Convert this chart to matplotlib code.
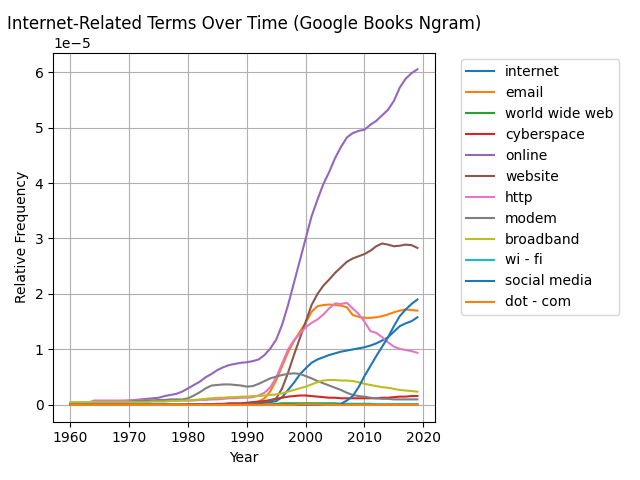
import numpy as np
import matplotlib
matplotlib.use("Agg")
import matplotlib.pyplot as plt

years = list(range(1960, 2020))

terms = ["internet", "email", "world wide web", "cyberspace", "online", "website",
         "http", "modem", "broadband", "wi - fi", "social media", "dot - com"]

# values in units of 1e-5, years 1960..2019
internet = [0.01] * 30 + [
    0.02, 0.02, 0.03, 0.04, 0.05, 0.07, 0.14, 0.27, 0.40, 0.55,
    0.66, 0.76, 0.82, 0.86, 0.90, 0.93, 0.96, 0.98, 1.00, 1.02,
    1.04, 1.07, 1.11, 1.16, 1.22, 1.32, 1.42, 1.47, 1.51, 1.58]
email = [0.0] * 25 + [0.01, 0.01, 0.02, 0.02, 0.02] + [
    0.03, 0.04, 0.06, 0.12, 0.25, 0.45, 0.70, 0.95, 1.15, 1.32,
    1.48, 1.68, 1.78, 1.80, 1.81, 1.80, 1.79, 1.76, 1.62, 1.59,
    1.57, 1.57, 1.58, 1.60, 1.63, 1.67, 1.70, 1.72, 1.71, 1.70]
world_wide_web = [0.0] * 34 + [
    0.01, 0.02, 0.03, 0.03, 0.03, 0.03,
    0.03, 0.03, 0.03, 0.03, 0.03, 0.03, 0.02, 0.02, 0.02, 0.02,
    0.02, 0.02, 0.01, 0.01, 0.01, 0.01, 0.01, 0.01, 0.01, 0.01]
cyberspace = [0.0] * 24 + [0.01, 0.02, 0.02, 0.03, 0.03, 0.03] + [
    0.04, 0.05, 0.06, 0.07, 0.09, 0.11, 0.13, 0.15, 0.16, 0.17,
    0.17, 0.16, 0.15, 0.14, 0.13, 0.13, 0.12, 0.12, 0.12, 0.12,
    0.12, 0.12, 0.12, 0.13, 0.13, 0.14, 0.15, 0.15, 0.16, 0.16]
online = [
    0.03, 0.03, 0.03, 0.04, 0.05, 0.05, 0.05, 0.06, 0.06, 0.07,
    0.08, 0.09, 0.10, 0.11, 0.12, 0.13, 0.16, 0.18, 0.20, 0.24,
    0.30, 0.36, 0.42, 0.50, 0.56, 0.63, 0.68, 0.72, 0.74, 0.76,
    0.77, 0.79, 0.82, 0.90, 1.02, 1.18, 1.45, 1.80, 2.20, 2.60,
    3.00, 3.40, 3.70, 3.98, 4.20, 4.45, 4.65, 4.82, 4.90, 4.94,
    4.96, 5.05, 5.12, 5.22, 5.32, 5.48, 5.72, 5.88, 5.98, 6.05]
website = [0.0] * 20 + [0.01] * 10 + [
    0.03, 0.03, 0.04, 0.05, 0.07, 0.12, 0.30, 0.58, 0.90, 1.20,
    1.50, 1.80, 2.00, 2.15, 2.26, 2.38, 2.48, 2.58, 2.64, 2.68,
    2.72, 2.78, 2.86, 2.91, 2.89, 2.86, 2.87, 2.89, 2.88, 2.83]
http = [0.04] * 4 + [0.08] * 16 + [
    0.08, 0.08, 0.09, 0.09, 0.10, 0.10, 0.11, 0.12, 0.12, 0.13,
    0.13, 0.14, 0.17, 0.22, 0.32, 0.50, 0.75, 1.00, 1.17, 1.28,
    1.40, 1.48, 1.54, 1.63, 1.74, 1.83, 1.82, 1.84, 1.74, 1.64,
    1.50, 1.33, 1.30, 1.22, 1.13, 1.05, 1.01, 0.99, 0.97, 0.94]
modem = [0.02] * 10 + [
    0.06, 0.07, 0.07, 0.08, 0.08, 0.09, 0.09, 0.10, 0.10, 0.10,
    0.12, 0.17, 0.23, 0.30, 0.35, 0.36, 0.37, 0.37, 0.36, 0.35,
    0.33, 0.34, 0.38, 0.43, 0.48, 0.51, 0.54, 0.56, 0.57, 0.56,
    0.52, 0.48, 0.43, 0.39, 0.35, 0.31, 0.27, 0.22, 0.18, 0.16,
    0.15, 0.13, 0.12, 0.11, 0.11, 0.10, 0.10, 0.10, 0.10, 0.10]
broadband = [0.05] * 14 + [
    0.06, 0.06, 0.06, 0.07, 0.07, 0.08,
    0.08, 0.09, 0.10, 0.11, 0.12, 0.13, 0.13, 0.14, 0.14, 0.15,
    0.15, 0.16, 0.16, 0.17, 0.18, 0.19, 0.21, 0.24, 0.27, 0.30,
    0.33, 0.37, 0.41, 0.44, 0.45, 0.45, 0.44, 0.44, 0.43, 0.41,
    0.38, 0.36, 0.34, 0.32, 0.31, 0.29, 0.27, 0.26, 0.25, 0.24]
wi_fi = [0.0] * 43 + [0.01] * 17
social_media = [0.0] * 46 + [
    0.02, 0.08, 0.16, 0.32,
    0.52, 0.70, 0.88, 1.05, 1.22, 1.42, 1.60, 1.72, 1.82, 1.90]
dot_com = [0.0] * 39 + [0.01, 0.01, 0.01, 0.01] + [0.0] * 17

series = [internet, email, world_wide_web, cyberspace, online, website,
          http, modem, broadband, wi_fi, social_media, dot_com]

fig = plt.figure(figsize=(6.4, 4.8), dpi=100)
for term, vals in zip(terms, series):
    plt.plot(years, np.array(vals) * 1e-5, label=term)

plt.title("Internet-Related Terms Over Time (Google Books Ngram)")
plt.xlabel("Year")
plt.ylabel("Relative Frequency")
plt.legend(bbox_to_anchor=(1.05, 1), loc="upper left")
plt.grid(True)
plt.tight_layout()
plt.savefig("out.png")
